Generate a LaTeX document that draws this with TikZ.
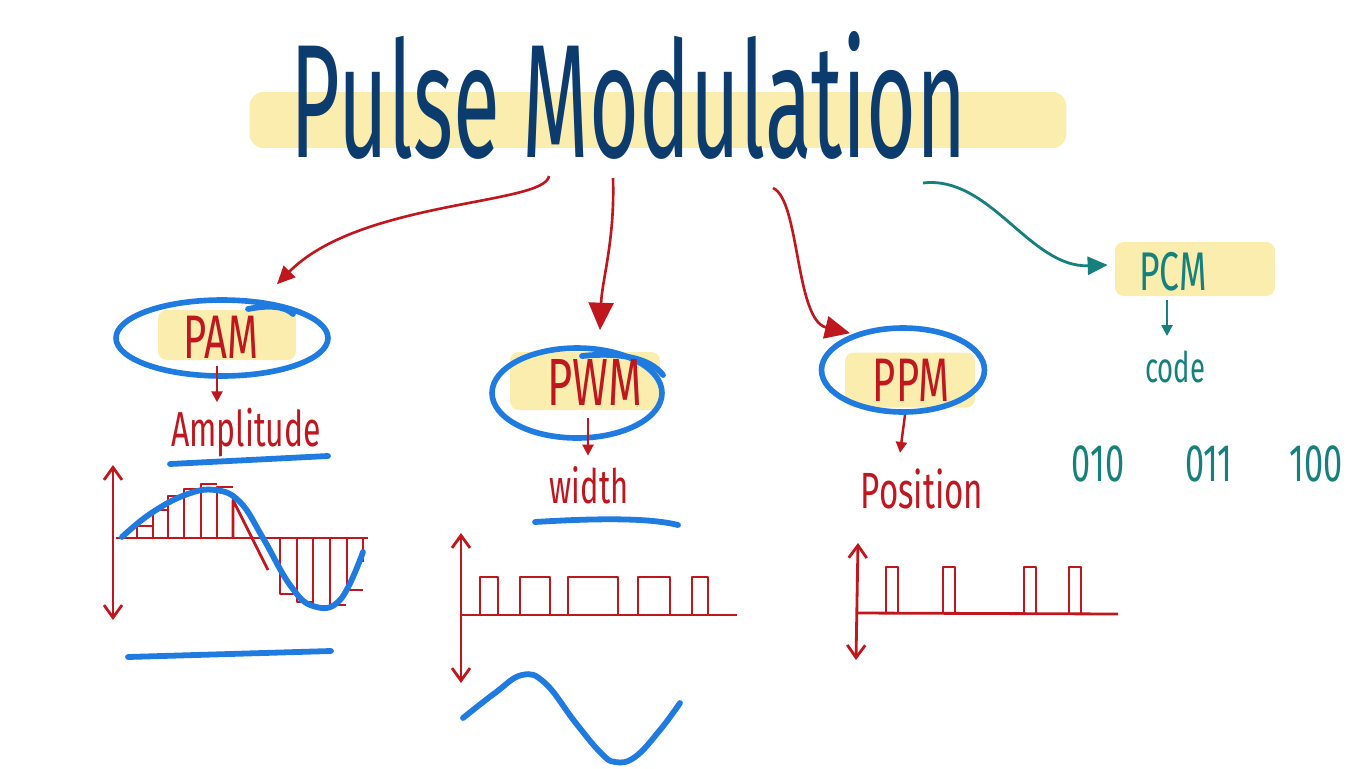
\documentclass[tikz,border=0pt]{standalone}
\usepackage{fontspec}
\newfontfamily\titlefont[FakeStretch=0.53]{Fira Sans}
\newfontfamily\handfont[FakeStretch=0.65]{Fira Sans}
\usetikzlibrary{arrows.meta,shapes.geometric}
\definecolor{inkred}{HTML}{C0171F}
\definecolor{inknavy}{HTML}{0C3B6E}
\definecolor{inkblue}{HTML}{1F7BE0}
\definecolor{inkteal}{HTML}{16807D}
\definecolor{marker}{HTML}{FBEDAE}
\newcommand{\hand}[1]{\handfont\fontsize{#1}{#1}\selectfont}

\begin{document}
\begin{tikzpicture}[x=0.02cm,y=-0.02cm,>=Latex,
  hl/.style={fill=marker,rounded corners=5pt,inner sep=0pt},
  txt/.style={inner sep=0pt,anchor=base},
  ring/.style={draw=inkblue,line width=3.2pt,ellipse,inner sep=0pt},
  sig/.style={inkblue,line width=3.3pt,line cap=round},
  wave/.style={inkred,line width=1.6pt,line join=round},
  axis/.style={wave,{Straight Barb[length=2.5mm,width=3.6mm]}-{Straight Barb[length=2.5mm,width=3.6mm]}},
  bigtip/.style={inkred,line width=1.5pt,-{Triangle[length=#1,width=0.9*#1]}},
  smalltip/.style={line width=1.4pt,-{Triangle[length=2.2mm,width=2.2mm]}}]
  \fill[white] (0,0) rectangle (1366,768);
  \useasboundingbox (0,0) rectangle (1366,768);

  \node[hl,rounded corners=8pt,minimum width=16.34cm,minimum height=1.12cm] (titlebg) at (658,120) {};
  \node[txt,text=inknavy,font={\titlefont\fontsize{92}{92}\selectfont}] (title) at (629,157) {Pulse Modulation};
  \coordinate (s1) at (549,176);
  \coordinate (s2) at (613,178);
  \coordinate (s3) at (773,188);
  \coordinate (s4) at (923,183);

  % PAM
  \node[hl,minimum width=2.76cm,minimum height=1cm] (pambox) at (227,335) {};
  \node[ring,minimum width=4.24cm,minimum height=1.52cm] (pamring) at (222,338) {};
  \draw[sig] (248,309) .. controls (268,305) and (285,306) .. (293,314);
  \node[txt,text=inkred,font=\hand{35}] (pam) at (221,358) {PAM};
  \node[txt,text=inkred,font=\hand{28}] (amp) at (246,446) {Amplitude};
  \draw[bigtip=3.6mm] (s1) .. controls (545,205) and (360,200) .. ([shift={(1.1cm,0.26cm)}]pamring.north);
  \draw[smalltip,inkred] ([xshift=-0.2cm,yshift=-0.12cm]pambox.south) -- ([xshift=-0.2cm,yshift=0.1cm]pambox.south |- amp.north);
  \draw[sig] (170,464) -- (328,456);
  \draw[axis] (113,465) -- (113,620);
  \draw[wave] (116,538) -- (368,538);
  \foreach \x/\y in {137/526,153/510,168/496,184/489,201/484,217/487}
    \draw[wave] (\x,538) -- (\x,\y) -- ++(16,0);
  \draw[wave] (233,538) -- (233,500) -- (268,570);
  \foreach \x/\y in {280/594,297/602,313/608,330/605,347/590}
    \draw[wave] (\x,538) -- (\x,\y) -- ++(16,0);
  \draw[wave] (363,538) -- (363,562);
  \draw[sig] plot[smooth,tension=0.7] coordinates {(122,537) (150,514) (185,495) (215,490) (240,502) (263,538) (290,585) (313,606) (340,600) (363,552)};
  \draw[sig] (128,657) -- (331,651);

  % PWM
  \node[hl,minimum width=3cm,minimum height=1.16cm] (pwmbox) at (585,381) {};
  \node[ring,minimum width=3.4cm,minimum height=1.8cm] (pwmring) at (577,393) {};
  \draw[sig] (582,356) .. controls (620,352) and (650,358) .. (663,375);
  \node[txt,text=inkred,font=\hand{38}] (pwm) at (595,405) {PWM};
  \node[txt,text=inkred,font=\hand{27}] (wid) at (589,503) {width};
  \draw[bigtip=5.5mm] (s2) .. controls (615,240) and (602,280) .. ([shift={(0.46cm,0.3cm)}]pwmring.north);
  \draw[smalltip,inkred] ([xshift=0.06cm,yshift=-0.16cm]pwmbox.south) -- ([xshift=0.06cm,yshift=0.2cm]pwmbox.south |- wid.north);
  \draw[sig] (535,522) .. controls (600,518) and (650,518) .. (678,525);
  \draw[axis] (461,533) -- (461,683);
  \draw[wave] (462,615) -- (737,615);
  \foreach \a/\b in {480/498,520/550,568/618,638/670,692/708}
    \draw[wave] (\a,615) -- (\a,577) -- (\b,577) -- (\b,615);
  \draw[sig] plot[smooth,tension=0.7] coordinates {(463,718) (495,693) (522,675) (545,683) (575,722) (600,752) (615,762) (635,757) (660,730) (680,703)};

  % PPM
  \node[hl,minimum width=2.6cm,minimum height=1.1cm] (ppmbox) at (910,380) {};
  \node[ring,minimum width=3.26cm,minimum height=1.68cm] (ppmring) at (903,370) {};
  \node[txt,text=inkred,font=\hand{35}] (ppm) at (911,401) {PPM};
  \node[txt,text=inkred,font=\hand{29}] (posi) at (922,508) {Position};
  \draw[bigtip=5mm] (s3) .. controls (800,200) and (795,320) .. ([shift={(-1.06cm,-0.16cm)}]ppmring.north);
  \draw[smalltip,inkred] ([xshift=-0.1cm,yshift=-0.14cm]ppmbox.south) -- ([xshift=-0.2cm,yshift=0.3cm]ppmbox.south |- posi.north);
  \draw[axis] (858,543) -- (856,660);
  \draw[wave] (857,613) -- (1118,614);
  \foreach \a in {886,943,1024,1069}
    \draw[wave] (\a,613) -- (\a,567) -- ++(12,0) -- ++(0,46);

  % PCM
  \node[hl,minimum width=3.2cm,minimum height=1.08cm] (pcmbox) at (1195,269) {};
  \node[txt,text=inkteal,font=\hand{31}] (pcm) at (1173,290) {PCM};
  \node[txt,text=inkteal,font=\hand{24}] (code) at (1175,382) {code};
  \draw[inkteal,line width=1.6pt,-{Triangle[length=4mm,width=3.6mm]}] (s4) .. controls (990,175) and (1030,268) .. ([shift={(-0.14cm,0.08cm)}]pcmbox.west);
  \draw[smalltip,inkteal] ([xshift=-0.56cm,yshift=-0.08cm]pcmbox.south) -- ([xshift=-0.56cm,yshift=0.28cm]pcmbox.south |- code.north);
  \node[txt,text=inkteal,font=\hand{30}] (b1) at (1098,481) {010};
  \node[txt,text=inkteal,font=\hand{30}] (b2) at (1209,481) {011};
  \node[txt,text=inkteal,font=\hand{30}] (b3) at (1316,481) {100};
\end{tikzpicture}
\end{document}
